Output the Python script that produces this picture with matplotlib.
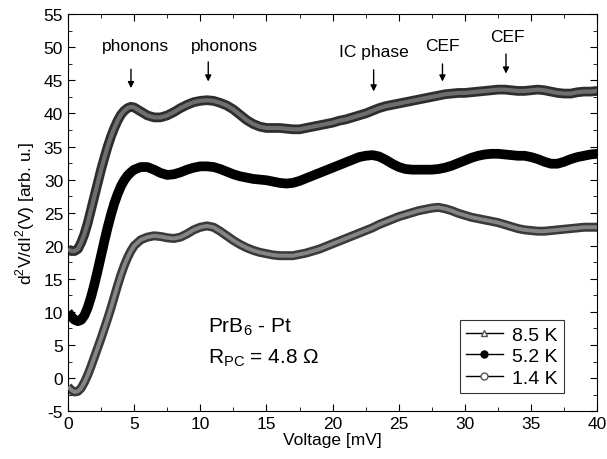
import numpy as np
import matplotlib.pyplot as plt
from matplotlib.lines import Line2D

plt.rcParams['font.family'] = ['Liberation Sans', 'DejaVu Sans']
plt.rcParams['mathtext.fontset'] = 'custom'
plt.rcParams['mathtext.rm'] = 'Liberation Sans'
plt.rcParams['axes.unicode_minus'] = False

# voltage grid [mV]
voltage = list(np.arange(0, 5.01, 0.25)) + list(np.arange(5.5, 40.01, 0.5))

t85 = [19.5, 19.2, 19.2, 19.5, 20.5, 21.8, 23.5, 25.5, 27.5, 29.5, 31.5, 33.3, 35.0, 36.5, 37.8, 38.9, 39.8, 40.4, 40.8, 41.0, 40.9,
       40.3, 39.7, 39.4, 39.4, 39.7, 40.2, 40.8, 41.3, 41.7, 41.9, 42.0, 41.9, 41.6, 41.2, 40.6, 39.8, 39.0, 38.4, 38.0, 37.8,
       37.8, 37.8, 37.7, 37.6, 37.6, 37.8, 38.0, 38.2, 38.4, 38.6, 38.9, 39.1, 39.4, 39.7, 40.0, 40.4, 40.8, 41.1, 41.3, 41.5,
       41.7, 41.9, 42.1, 42.3, 42.5, 42.7, 42.9, 43.0, 43.1, 43.1, 43.2, 43.3, 43.4, 43.5, 43.6, 43.6, 43.5, 43.4, 43.4, 43.5,
       43.6, 43.5, 43.3, 43.1, 43.0, 43.0, 43.2, 43.3, 43.3, 43.4]

t52 = [10.0, 9.3, 8.8, 8.6, 8.8, 9.5, 10.7, 12.3, 14.2, 16.3, 18.5, 20.7, 22.8, 24.7, 26.4, 27.8, 29.0, 29.9, 30.6, 31.1, 31.5,
       31.9, 31.9, 31.5, 31.0, 30.7, 30.8, 31.1, 31.5, 31.8, 32.0, 32.0, 31.9, 31.6, 31.2, 30.8, 30.5, 30.3, 30.1, 30.0, 29.9,
       29.7, 29.5, 29.4, 29.5, 29.8, 30.2, 30.6, 31.0, 31.4, 31.8, 32.2, 32.6, 33.0, 33.4, 33.6, 33.7, 33.5, 33.0, 32.4, 31.9,
       31.6, 31.5, 31.5, 31.5, 31.5, 31.6, 31.8, 32.1, 32.5, 32.9, 33.3, 33.6, 33.8, 33.9, 33.9, 33.8, 33.7, 33.6, 33.6, 33.4,
       33.1, 32.7, 32.4, 32.4, 32.7, 33.1, 33.4, 33.6, 33.8, 33.9]

t14 = [-1.3, -1.8, -2.1, -2.0, -1.5, -0.6, 0.5, 1.8, 3.2, 4.6, 6.0, 7.5, 9.0, 10.6, 12.3, 14.0, 15.6, 17.0, 18.2, 19.2, 20.0,
       20.9, 21.3, 21.5, 21.4, 21.2, 21.1, 21.3, 21.8, 22.4, 22.8, 23.0, 22.8, 22.2, 21.5, 20.8, 20.2, 19.7, 19.3, 19.0, 18.8,
       18.6, 18.5, 18.5, 18.5, 18.7, 18.9, 19.2, 19.5, 19.9, 20.3, 20.7, 21.1, 21.5, 21.9, 22.3, 22.7, 23.2, 23.6, 24.0, 24.4,
       24.7, 25.0, 25.3, 25.5, 25.7, 25.8, 25.6, 25.3, 24.9, 24.6, 24.3, 24.1, 23.9, 23.7, 23.5, 23.2, 22.9, 22.6, 22.4, 22.3,
       22.2, 22.2, 22.3, 22.4, 22.5, 22.6, 22.7, 22.8, 22.8, 22.8]

# annotations: label, text x, text y, arrow x, arrow top, arrow bottom
labels = ['phonons', 'phonons', 'IC phase', 'CEF', 'CEF']
lab_x = [5.1, 11.8, 23.1, 28.3, 33.2]
lab_y = [50.2, 50.2, 49.3, 50.3, 51.7]
arr_x = [4.76, 10.6, 23.1, 28.3, 33.1]
arr_top = [47.1, 48.2, 47.0, 47.9, 49.4]
arr_bot = [43.4, 44.4, 42.9, 44.4, 45.6]

fig = plt.figure(figsize=(6.07, 4.6), dpi=100)
ax = fig.add_axes([0.112, 0.104, 0.872, 0.863])

# thick bands, like the densely packed markers of the original
ax.plot(voltage, t85, '-', color='#2e2e2e', lw=7, solid_capstyle='butt', zorder=2)
ax.plot(voltage, t85, '-', color='#6e6e6e', lw=3, solid_capstyle='butt', zorder=3)
ax.plot(voltage, t52, '-', color='black', lw=7, solid_capstyle='butt', zorder=2)
ax.plot(voltage, t14, '-', color='#3a3a3a', lw=6.5, solid_capstyle='butt', zorder=2)
ax.plot(voltage, t14, '-', color='#858585', lw=2.8, solid_capstyle='butt', zorder=3)

for lab, tx, ty, xa, y0, y1 in zip(labels, lab_x, lab_y, arr_x, arr_top, arr_bot):
    ax.text(tx, ty, lab, ha='center', va='center', fontsize=12.5)
    ax.annotate('', xy=(xa, y1), xytext=(xa, y0),
                arrowprops=dict(arrowstyle='-|>', color='black', lw=1, mutation_scale=9))

ax.text(10.6, 7.9, 'PrB$_6$ - Pt', fontsize=15, va='center')
ax.text(10.6, 3.2, 'R$_{\\mathrm{PC}}$ = 4.8 Ω', fontsize=15, va='center')

ax.set_xlim(0, 40)
ax.set_ylim(-5, 55)
ax.set_xticks(np.arange(0, 41, 5))
ax.set_yticks(np.arange(-5, 56, 5))
ax.set_xticks(np.arange(0, 41, 2.5), minor=True)
ax.set_yticks(np.arange(-5, 56, 2.5), minor=True)
ax.tick_params(which='both', direction='in', top=True, right=True, labelsize=12.5)
ax.tick_params(which='major', length=5)
ax.tick_params(which='minor', length=3)
ax.set_xlabel('Voltage [mV]', fontsize=12.5, labelpad=1)
ax.set_ylabel('d$^2$V/dI$^2$(V) [arb. u.]', fontsize=12.5, labelpad=5)

handles = [Line2D([], [], color='black', lw=1, marker='^', mfc='white', mec='#555555', ms=5),
           Line2D([], [], color='black', lw=1, marker='o', mfc='black', mec='black', ms=5),
           Line2D([], [], color='black', lw=1, marker='o', mfc='white', mec='#555555', ms=5)]
leg = ax.legend(handles, ['8.5 K', '5.2 K', '1.4 K'], loc='lower right', fontsize=14,
                frameon=True, fancybox=False, edgecolor='black', handlelength=1.9,
                handletextpad=0.5, borderpad=0.3, labelspacing=0.2, borderaxespad=0,
                bbox_to_anchor=(0.937, 0.047))
leg.get_frame().set_linewidth(0.8)

fig.savefig('out.png', dpi=100)
